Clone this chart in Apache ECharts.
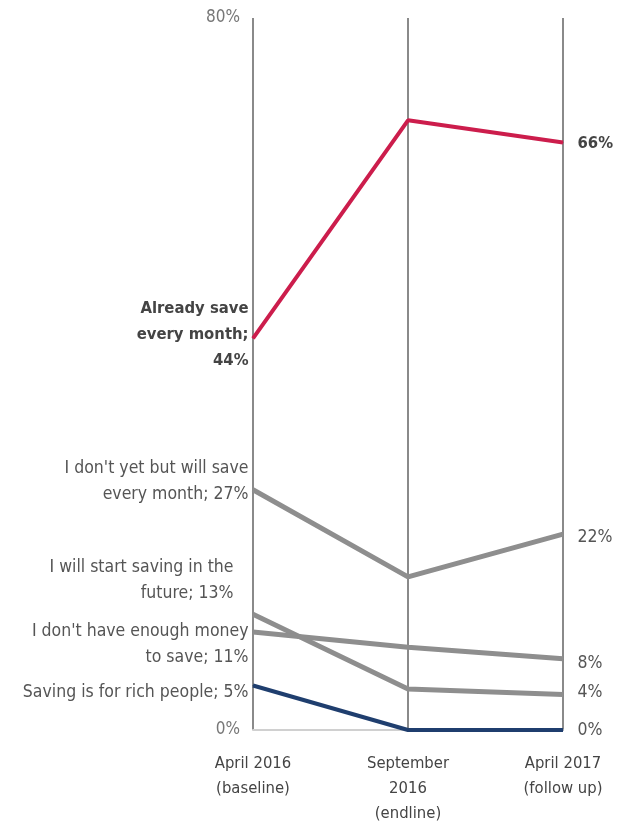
<!DOCTYPE html>
<html>
<head>
<meta charset="utf-8">
<script src="https://cdn.jsdelivr.net/npm/echarts@6/dist/echarts.min.js"></script>
<style>
  html, body { margin: 0; padding: 0; background: #fff; }
  #ch { width: 621px; height: 830px; }
</style>
</head>
<body>
<div id="ch"></div>
<script>
var periods = ['April 2016\n(baseline)', 'September\n2016\n(endline)', 'April 2017\n(follow up)'];
var names = [
  "I don't yet but will save\nevery month",
  'I will start saving in the\nfuture',
  "I don't have enough money\nto save",
  'Saving is for rich people',
  'Already save\nevery month;'
];
var dontYet = [27, 17.2, 22];
var startFuture = [13, 4.6, 4];
var notEnough = [11, 9.3, 8];
var richPeople = [5, 0, 0];
var alreadySave = [44, 68.5, 66];
var yTicks = [0, 80];

var font = "'DejaVu Sans Condensed', 'Liberation Sans Narrow', sans-serif";
var grey = '#8e8e8e';

// label offsets (px) to place the text as in the original
var leftOffsets = [[1, -8], [-14, -34], [1, 12], [1, 7], [1, -4]];
var rightOffsets = [[9, 3], [9, -2], [9, 5], [9, 0], [9, 1]];

function mkSeries(idx, vals, color, bold, width, leftText) {
  var lbl = {
    fontFamily: font,
    fontSize: bold ? 16.5 : 17.5,
    lineHeight: 26,
    color: bold ? '#444' : '#555',
    fontWeight: bold ? 'bold' : 'normal'
  };
  var data = vals.map(function (v, i) {
    var item = { value: v };
    if (i === 0) {
      item.label = Object.assign({}, lbl, {
        show: true, position: 'left', align: 'right',
        offset: leftOffsets[idx],
        formatter: leftText
      });
    } else if (i === vals.length - 1) {
      item.label = Object.assign({}, lbl, {
        show: true, position: 'right', align: 'left',
        offset: rightOffsets[idx],
        formatter: Math.round(v) + '%'
      });
    }
    return item;
  });
  return {
    type: 'line',
    data: data,
    symbol: 'circle',
    symbolSize: 1,
    showSymbol: true,
    itemStyle: { color: color },
    lineStyle: { color: color, width: width },
    label: { show: false },
    z: bold ? 5 : 3
  };
}

var series = [
  mkSeries(0, dontYet, grey, false, 5, names[0] + '; ' + dontYet[0] + '%'),
  mkSeries(1, startFuture, grey, false, 5, names[1] + '; ' + startFuture[0] + '%'),
  mkSeries(2, notEnough, grey, false, 5, names[2] + '; ' + notEnough[0] + '%'),
  mkSeries(3, richPeople, '#1f3e6e', false, 4, names[3] + '; ' + richPeople[0] + '%'),
  mkSeries(4, alreadySave, '#cc1d4c', true, 4, names[4] + '\n' + alreadySave[0] + '%')
];
series[3].z = 4;

var chart = echarts.init(document.getElementById('ch'));
chart.setOption({
  animation: false,
  grid: { left: 253, right: 58, top: 18, bottom: 100 },
  xAxis: {
    type: 'category',
    data: periods,
    boundaryGap: false,
    axisLine: { show: true, lineStyle: { color: '#d0d0d0', width: 2 } },
    axisTick: { show: false },
    splitLine: { show: true, lineStyle: { color: '#8a8a8a', width: 2 } },
    axisLabel: {
      fontFamily: font, fontSize: 16.5, lineHeight: 25, color: '#444',
      margin: 21, interval: 0
    }
  },
  yAxis: {
    type: 'value',
    min: 0, max: 80, interval: 80,
    axisLine: { show: false },
    axisTick: { show: false },
    splitLine: { show: false },
    axisLabel: {
      fontFamily: font, fontSize: 17, color: '#777', margin: 13,
      formatter: function (v) { return yTicks.indexOf(v) >= 0 ? v + '%' : ''; }
    }
  },
  series: series
});
</script>
</body>
</html>
